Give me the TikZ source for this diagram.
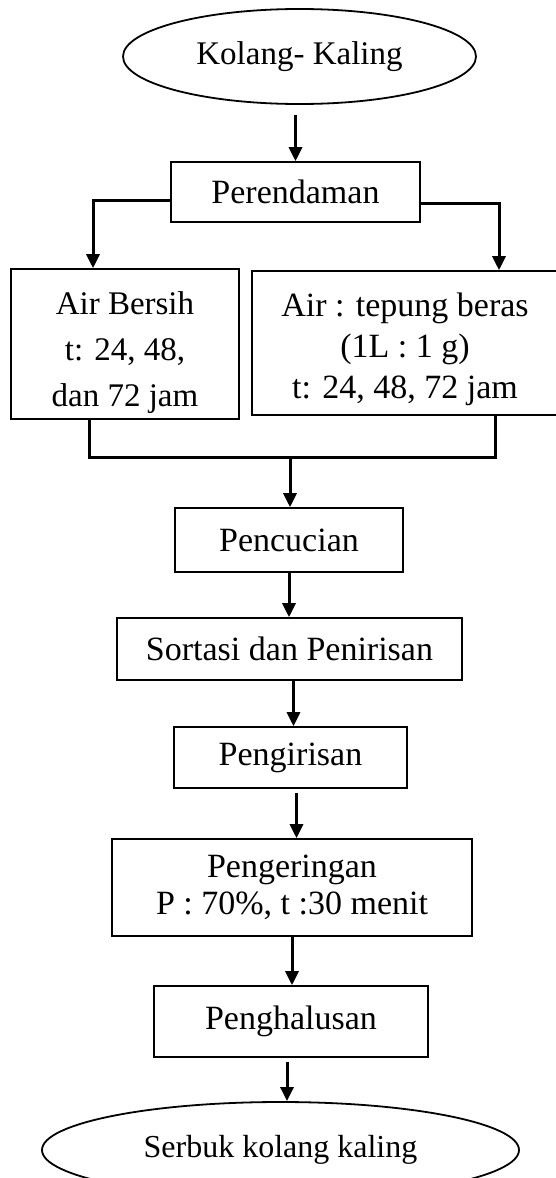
\documentclass[tikz,border=0pt]{standalone}
\usepackage{fontspec}
\setmainfont{Liberation Serif}
\usetikzlibrary{shapes.geometric,arrows.meta}
\begin{document}
\begin{tikzpicture}[x=1pt,y=-1pt,
    box/.style={draw,line width=1.6pt,align=center,inner sep=0pt,
      font=\fontsize{34}{44}\selectfont},
    oval/.style={draw,ellipse,line width=1.8pt,inner sep=0pt,
      font=\fontsize{33}{40}\selectfont},
    link/.style={line width=3pt},
    arrow/.style={link,-{Triangle[length=14pt,width=13pt]}}]
  \useasboundingbox (0,0) rectangle (555,1178);
  % bahan awal dan perendaman
  \node[oval,minimum width=353pt,minimum height=95pt] (kolang) at (299.5,56.5) {Kolang- Kaling};
  \node[box,minimum width=249pt,minimum height=60pt] (perendaman) at (295.5,192) {Perendaman};
  \node[box,minimum width=228pt,minimum height=150pt,
    font=\fontsize{33}{46}\selectfont] (bersih) at (125,344) {\rule{0pt}{40pt}Air Bersih\\t: 24, 48,\\dan 72 jam};
  \node[box,minimum width=306pt,minimum height=144pt,
    font=\fontsize{34}{41}\selectfont] (tepung) at (405,343) {\rule{0pt}{36pt}Air : tepung beras\\(1L : 1 g)\\t: 24, 48, 72 jam};
  % proses lanjutan
  \node[box,minimum width=228pt,minimum height=64pt] (pencucian) at (289,540) {Pencucian};
  \node[box,minimum width=345pt,minimum height=62pt] (sortasi) at (289.5,649) {Sortasi dan Penirisan};
  \node[box,minimum width=233pt,minimum height=61pt] (pengirisan) at (290.5,757.5) {Pengirisan};
  \node[box,minimum width=360pt,minimum height=97pt,
    font=\fontsize{34}{37}\selectfont] (pengeringan) at (292,887.5) {Pengeringan\\P : 70\%, t :30 menit};
  \node[box,minimum width=274pt,minimum height=71pt] (penghalusan) at (291,1021.5) {Penghalusan};
  \node[oval,minimum width=477pt,minimum height=96pt,
    font=\fontsize{32}{38}\selectfont] (serbuk) at (280.5,1150) {Serbuk kolang kaling};
  \coordinate (merge) at (290,457);

  \draw[arrow] ([yshift=-10pt]kolang.south -| perendaman.north) -- (perendaman.north);
  \draw[arrow] ([yshift=-8pt]perendaman.west) -| ([xshift=-32pt]bersih.north);
  \draw[arrow] ([yshift=-11pt]perendaman.east) -| ([xshift=94pt]tepung.north);
  \draw[link] ([xshift=-36pt]bersih.south) |- (merge) -| ([xshift=90pt]tepung.south);
  \draw[arrow] (merge) -- (merge |- pencucian.north);
  \draw[arrow] (pencucian) -- (pencucian |- sortasi.north);
  \draw[arrow] ([xshift=4pt]sortasi.south) -- ([xshift=4pt]sortasi.south |- pengirisan.north);
  \draw[arrow] ([xshift=6pt,yshift=-4pt]pengirisan.south) -- ([xshift=6pt]pengirisan.south |- pengeringan.north);
  \draw[arrow] (pengeringan.south) -- (pengeringan.south |- penghalusan.north);
  \draw[arrow] ([xshift=-4pt,yshift=-4pt]penghalusan.south) -- ([xshift=-4pt]penghalusan.south |- serbuk.north);
\end{tikzpicture}
\end{document}
